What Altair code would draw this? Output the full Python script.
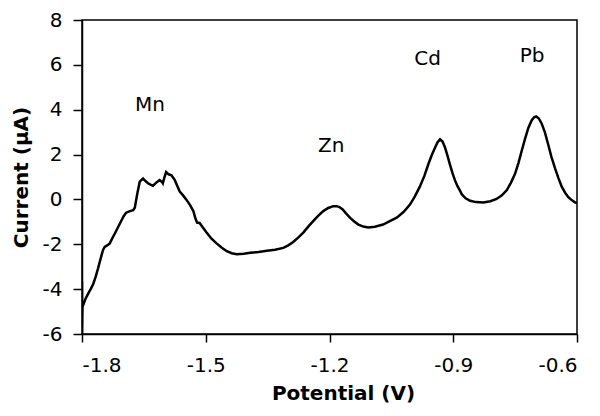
import altair as alt
import pandas as pd

potential = [
    -1.800, -1.800, -1.799, -1.792, -1.785, -1.779, -1.773, -1.767, -1.761, -1.755,
    -1.749, -1.745, -1.739, -1.733, -1.727, -1.721, -1.713, -1.705, -1.699, -1.693,
    -1.684, -1.676, -1.672, -1.666, -1.660, -1.652, -1.646, -1.640, -1.634, -1.628,
    -1.620, -1.612, -1.606, -1.604, -1.600, -1.596, -1.590, -1.583, -1.575, -1.569,
    -1.563, -1.555, -1.547, -1.538, -1.530, -1.525, -1.521, -1.515, -1.507, -1.498,
    -1.486, -1.473, -1.461, -1.449, -1.437, -1.425, -1.408, -1.392, -1.372, -1.352,
    -1.332, -1.312, -1.300, -1.288, -1.276, -1.263, -1.251, -1.239, -1.227, -1.215,
    -1.203, -1.191, -1.183, -1.176, -1.168, -1.160, -1.150, -1.140, -1.130, -1.118,
    -1.106, -1.090, -1.070, -1.055, -1.037, -1.020, -1.005, -0.993, -0.981, -0.970,
    -0.960, -0.952, -0.944, -0.938, -0.932, -0.926, -0.920, -0.914, -0.908, -0.902,
    -0.896, -0.890, -0.884, -0.879, -0.870, -0.859, -0.845, -0.827, -0.810, -0.795,
    -0.782, -0.770, -0.760, -0.750, -0.742, -0.734, -0.726, -0.718, -0.710, -0.704,
    -0.699, -0.693, -0.686, -0.678, -0.670, -0.662, -0.653, -0.645, -0.637, -0.629,
    -0.621, -0.613, -0.605, -0.600,
]
current = [
    -3.65, -5.95, -4.80, -4.45, -4.20, -4.00, -3.78, -3.45, -3.07, -2.65,
    -2.25, -2.12, -2.05, -1.97, -1.75, -1.54, -1.25, -0.96, -0.75, -0.59,
    -0.52, -0.48, -0.37, 0.25, 0.79, 0.93, 0.82, 0.72, 0.66, 0.61,
    0.75, 0.86, 0.78, 0.72, 1.00, 1.22, 1.12, 1.08, 0.86, 0.60,
    0.35, 0.18, -0.01, -0.25, -0.52, -0.85, -1.03, -1.05, -1.25, -1.47,
    -1.75, -1.97, -2.15, -2.31, -2.40, -2.44, -2.42, -2.38, -2.34, -2.29,
    -2.24, -2.16, -2.05, -1.90, -1.70, -1.47, -1.20, -0.96, -0.72, -0.52,
    -0.38, -0.30, -0.30, -0.34, -0.45, -0.62, -0.82, -0.98, -1.12, -1.21,
    -1.25, -1.22, -1.12, -0.98, -0.81, -0.55, -0.23, 0.14, 0.57, 1.05,
    1.59, 1.98, 2.32, 2.55, 2.68, 2.58, 2.32, 1.95, 1.55, 1.18,
    0.86, 0.60, 0.40, 0.22, 0.05, -0.06, -0.12, -0.14, -0.08, 0.02,
    0.18, 0.42, 0.75, 1.15, 1.62, 2.17, 2.70, 3.19, 3.52, 3.66,
    3.70, 3.62, 3.40, 3.00, 2.46, 1.90, 1.37, 0.95, 0.57, 0.30,
    0.10, -0.03, -0.13, -0.16,
]

label_text = ["Mn", "Zn", "Cd", "Pb"]
label_x = [-1.635, -1.196, -0.962, -0.709]
label_y = [4.2, 2.37, 6.28, 6.38]

x_ticks = [-1.8, -1.5, -1.2, -0.9, -0.6]
y_ticks = [-6, -4, -2, 0, 2, 4, 6, 8]

df = pd.DataFrame({"idx": list(range(len(potential))), "V": potential, "I": current})
labels = pd.DataFrame({"t": label_text, "V": label_x, "I": label_y})

FONT = "DejaVu Sans"

x_enc = alt.X(
    "V:Q",
    scale=alt.Scale(domain=[-1.8, -0.6], nice=False, zero=False),
    axis=alt.Axis(
        values=x_ticks,
        labelExpr="'' + datum.value",
        title="Potential (V)",
        grid=False,
        tickSize=8,
        labelPadding=13,
        titleX=261,
        titleY=65,
        titleBaseline="alphabetic",
        titleAnchor="start",
        titleAlign="center",
    ),
)
y_enc = alt.Y(
    "I:Q",
    scale=alt.Scale(domain=[-6, 8], nice=False, zero=False),
    axis=alt.Axis(
        values=y_ticks,
        labelExpr="'' + datum.value",
        title="Current (µA)",
        grid=False,
        tickSize=9,
        labelPadding=11,
        titleX=-55,
        titleY=157,
        titleAngle=270,
        titleBaseline="alphabetic",
        titleAlign="center",
    ),
)

line = alt.Chart(df).mark_line(color="black", strokeWidth=2.5, clip=True).encode(
    x=x_enc, y=y_enc, order="idx:Q"
)

text = alt.Chart(labels).mark_text(
    font=FONT, fontSize=20, color="black", align="center", baseline="middle"
).encode(x="V:Q", y="I:Q", text="t:N")

chart = (
    alt.layer(line, text)
    .properties(
        width=495,
        height=314,
        autosize=alt.AutoSizeParams(type="none"),
        padding={"left": 74, "top": 12, "right": 15, "bottom": 78},
        background="white",
    )
    .configure_view(stroke="black", strokeWidth=1.5)
    .configure_axis(
        domainColor="black",
        domainWidth=1.5,
        tickColor="black",
        tickWidth=1.5,
        labelFont=FONT,
        labelFontSize=20,
        labelColor="black",
        titleFont=FONT,
        titleFontSize=20,
        titleFontWeight="bold",
        titleColor="black",
    )
)

chart.save("out.html", embed_options={"renderer": "svg", "actions": False})
